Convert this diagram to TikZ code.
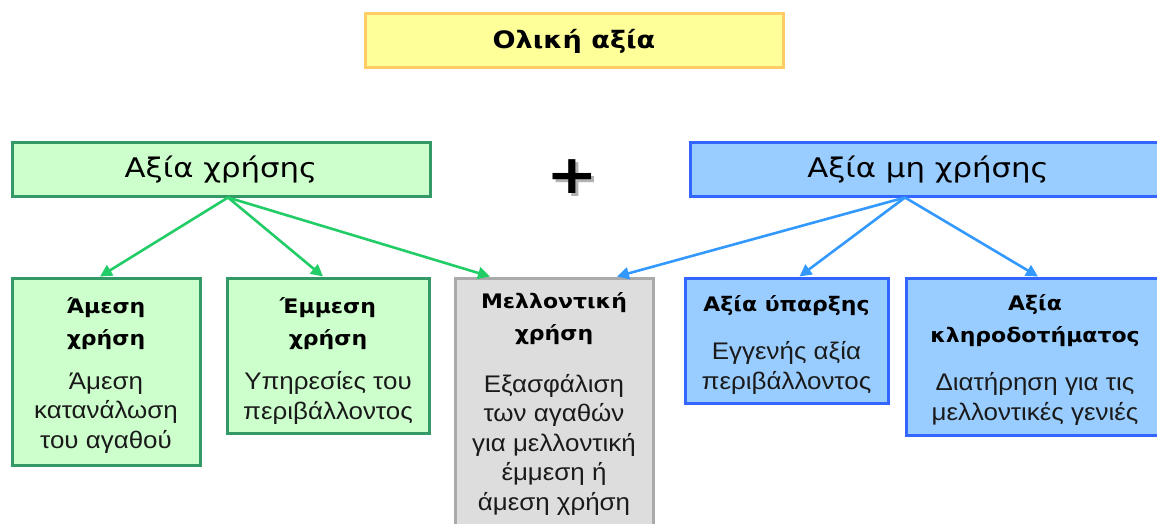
\documentclass[tikz,border=0pt]{standalone}
\usepackage{fontspec}
\setmainfont{Liberation Sans}
\newfontfamily\bigfont[FakeStretch=1.14]{DejaVu Sans}
\newfontfamily\titlefont[FakeStretch=1.13]{DejaVu Sans}
\newfontfamily\subfont[FakeStretch=1.1]{DejaVu Sans}
\newfontfamily\dfont[FakeStretch=1.08]{Liberation Sans}
\usetikzlibrary{arrows.meta,calc}
\definecolor{titlefill}{HTML}{FFFF99}
\definecolor{titledraw}{HTML}{FFCC66}
\definecolor{gfill}{HTML}{CCFFCC}
\definecolor{gdraw}{HTML}{339966}
\definecolor{garrow}{HTML}{22CC66}
\definecolor{bfill}{HTML}{99CCFF}
\definecolor{bdraw}{HTML}{3366FF}
\definecolor{barrow}{HTML}{3399FF}
\definecolor{cfill}{HTML}{DDDDDD}
\definecolor{cdraw}{HTML}{AAAAAA}
\definecolor{txt}{HTML}{1A1A1A}
\tikzset{
  box/.style={rectangle, draw, line width=3pt, inner sep=0pt},
  bigtxt/.style={font={\bigfont\fontsize{27}{30}\selectfont}, inner sep=0pt},
  hdrtxt/.style={font={\subfont\bfseries\fontsize{20}{32}\selectfont}, align=center, inner sep=0pt, anchor=base},
  desctxt/.style={font={\dfont\fontsize{24}{29.5}\selectfont}, text=txt, align=center, inner sep=0pt, anchor=base},
  garr/.style={draw=garrow, line width=2.6pt, -{Triangle[length=12pt,width=12pt]}},
  barr/.style={draw=barrow, line width=2.6pt, -{Triangle[length=12pt,width=12pt]}},
}
\begin{document}
\begin{tikzpicture}[x=1pt,y=-1pt]
\useasboundingbox (0,0) rectangle (1157,523);
\clip (0,0) rectangle (1157,523);
% top boxes
\node[box, fill=titlefill, draw=titledraw, minimum width=418pt, minimum height=54pt] (title) at (574,40) {};
\node[font={\titlefont\bfseries\fontsize{24}{28}\selectfont}, inner sep=0pt] (titletxt) at (574,41) {Ολική αξία};
\node[box, fill=gfill, draw=gdraw, minimum width=418pt, minimum height=54pt] (use) at (221,169) {};
\node[bigtxt] (usetxt) at (221,170) {Αξία χρήσης};
\node[box, fill=bfill, draw=bdraw, minimum width=480pt, minimum height=54pt] (nonuse) at (930,169) {};
\node[bigtxt] (nonusetxt) at (928,170) {Αξία μη χρήσης};
% plus with its shadow
\node[font={\bigfont\bfseries\fontsize{54}{54}\selectfont}, text=black!30, inner sep=0pt] (plusshadow) at (575,180) {+};
\node[font={\bigfont\bfseries\fontsize{54}{54}\selectfont}, inner sep=0pt] (plus) at (572,177) {+};
% lower boxes
\node[box, fill=gfill, draw=gdraw, minimum width=188pt, minimum height=187pt] (A) at (106,371.5) {};
\node[box, fill=gfill, draw=gdraw, minimum width=202pt, minimum height=155pt] (B) at (328,355.5) {};
\node[box, fill=cfill, draw=cdraw, minimum width=198pt, minimum height=262pt] (C) at (554,409) {};
\node[box, fill=bfill, draw=bdraw, minimum width=203pt, minimum height=125pt] (D) at (786.5,340.5) {};
\node[box, fill=bfill, draw=bdraw, minimum width=264pt, minimum height=157pt] (E) at (1038,356.5) {};
% texts (anchor = baseline of last line)
\node[hdrtxt] (Ah) at (106,345) {Άμεση\\χρήση};
\node[desctxt] (Ad) at (106,448) {Άμεση\\κατανάλωση\\του αγαθού};
\node[hdrtxt] (Bh) at (328,345) {Έμμεση\\χρήση};
\node[desctxt] (Bd) at (328,419) {Υπηρεσίες του\\περιβάλλοντος};
\node[hdrtxt] (Ch) at (554,340) {Μελλοντική\\χρήση};
\node[desctxt] (Cd) at (554,510) {Εξασφάλιση\\των αγαθών\\για μελλοντική\\έμμεση ή\\άμεση χρήση};
\node[hdrtxt] (Dh) at (786.5,311) {Αξία ύπαρξης};
\node[desctxt] (Dd) at (786.5,389) {Εγγενής αξία\\περιβάλλοντος};
\node[hdrtxt] (Eh) at (1035,342) {Αξία\\κληροδοτήματος};
\node[desctxt] (Ed) at (1035,420) {Διατήρηση για τις\\μελλοντικές γενιές};
% arrows
\coordinate (us) at ($(use.south)+(7,0)$);
\coordinate (ns) at ($(nonuse.south)+(-25,0)$);
\draw[garr] (us) -- ($(A.north)+(-6,0)$);
\draw[garr] (us) -- ($(B.north)+(-5,0)$);
\draw[garr] (us) -- ($(C.north)+(-64,0)$);
\draw[barr] (ns) -- ($(C.north)+(63,0)$);
\draw[barr] (ns) -- ($(D.north)+(13,0)$);
\draw[barr] (ns) -- ($(E.north)+(0,0)$);
\end{tikzpicture}
\end{document}
